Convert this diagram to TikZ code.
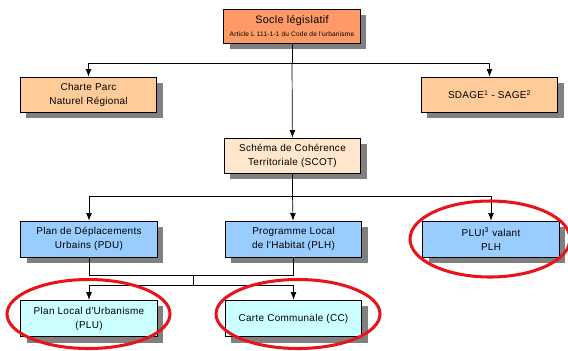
\documentclass[tikz,border=0pt]{standalone}
\usepackage{fontspec}
\setmainfont{Liberation Sans}
\newfontfamily\boitefont[LetterSpace=3]{Liberation Sans}
\usetikzlibrary{arrows, arrows.meta, positioning, calc}
\definecolor{orangefonce}{HTML}{FF9966}
\definecolor{peche}{HTML}{FFCC99}
\definecolor{pechepale}{HTML}{FFE6CC}
\definecolor{bleuciel}{HTML}{99CCFF}
\definecolor{cyanpale}{HTML}{CCFFFF}
\definecolor{ombre}{HTML}{808080}
\definecolor{rouge}{HTML}{E8141B}
\tikzset{
  boite/.style={rectangle, minimum width=4.1cm, minimum height=1.08cm, text centered, align=center,
                draw=black, line width=0.6pt, font=\boitefont\fontsize{8.5}{12}\selectfont, inner sep=2pt},
  ombrage/.style={fill=ombre, draw=none},
  flecha/.style={line width=0.6pt, ->, >={Latex[length=6.5pt,width=5pt]}},
  trait/.style={line width=0.6pt},
  cercle/.style={draw=rouge, line width=2.6pt}
}
% dessine l'ombre puis la boite
\newcommand{\boiteombre}[5]{%
  \fill[ombrage] ($(#3)+(0.18cm,-0.18cm)+(-2.05cm,-#5/2)$) rectangle ++(4.1cm,#5);
  \node (#1) [boite, fill=#2, minimum height=#5] at (#3) {#4};
}

\begin{document}
\begin{tikzpicture}[x=0.03cm, y=-0.03cm]
  \useasboundingbox (0,0) rectangle (568,350);

  % premiere ligne
  \boiteombre{socle}{orangefonce}{292,26}{{\fontsize{9.2}{11}\selectfont Socle législatif}\\[-1pt]{\fontsize{5.6}{6}\selectfont Article L 111-1-1 du Code de l'urbanisme}}{1.02cm}

  \boiteombre{charte}{peche}{88.5,94.5}{Charte Parc\\ Naturel Régional}{1.05cm}
  \boiteombre{sdage}{peche}{489.5,94.5}{SDAGE\textsuperscript{1} - SAGE\textsuperscript{2}}{1.05cm}
  \boiteombre{scot}{pechepale}{292.5,155.5}{Schéma de Cohérence\\ Territoriale (SCOT)}{1.05cm}

  \boiteombre{pdu}{bleuciel}{89,239}{Plan de Déplacements\\ Urbains (PDU)}{1.08cm}
  \boiteombre{plh}{bleuciel}{293.5,239}{Programme Local\\ de l'Habitat (PLH)}{1.08cm}
  \boiteombre{plui}{bleuciel}{491,239}{PLUI\textsuperscript{3} valant\\ PLH}{1.08cm}

  \boiteombre{plu}{cyanpale}{89,318.5}{Plan Local d'Urbanisme\\ (PLU)}{1.1cm}
  \boiteombre{cc}{cyanpale}{293.5,318.5}{Carte Communale (CC)}{1.1cm}

  % liaisons
  \coordinate (n1) at (292,63);
  \coordinate (n2) at (292.5,196);
  \coordinate (n3) at (193,275);
  \coordinate (n4) at (193,285);
  \draw [trait] (socle.south) -- (n1);
  \draw [flecha] (n1) -| (charte);
  \draw [flecha] (n1) -| (sdage);
  \draw [flecha] (n1) -- (scot);
  \draw [trait] (scot.south) -- (n2);
  \draw [flecha] (n2) -| (pdu);
  \draw [flecha] (n2) -- (plh);
  \draw [flecha] (n2) -| (plui);
  \draw [trait] (pdu.south) |- (n3) -| (plh.south);
  \draw [trait] (n3) -- (n4);
  \draw [flecha] (n4) -| (plu);
  \draw [flecha] (n4) -| (cc);

  % entourages rouges
  \draw [cercle] (490,239) ellipse [x radius=80, y radius=38];
  \draw [cercle] (88.5,314) ellipse [x radius=81.5, y radius=34.5];
  \draw [cercle] (298,314) ellipse [x radius=82, y radius=34.5];
\end{tikzpicture}
\end{document}
